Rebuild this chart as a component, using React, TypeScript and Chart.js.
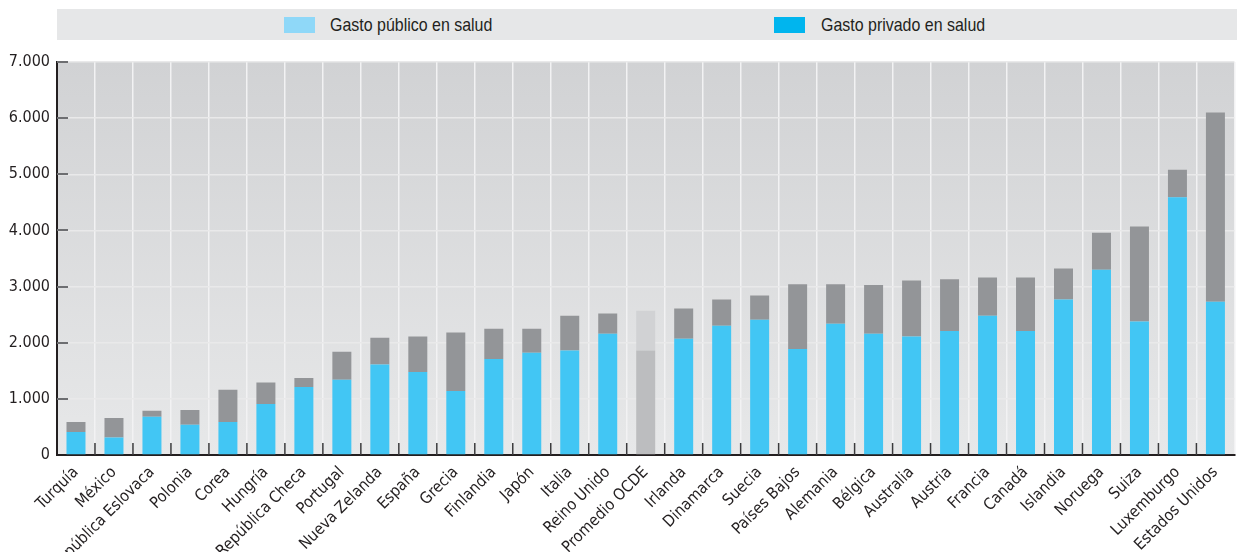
import React, { useEffect, useRef } from "react";
import { Chart, registerables } from "chart.js";

Chart.register(...registerables);

const categories = [
  "Turquía", "México", "República Eslovaca", "Polonia", "Corea", "Hungría",
  "República Checa", "Portugal", "Nueva Zelanda", "España", "Grecia", "Finlandia",
  "Japón", "Italia", "Reino Unido", "Promedio OCDE", "Irlanda", "Dinamarca",
  "Suecia", "Países Bajos", "Alemania", "Bélgica", "Australia", "Austria",
  "Francia", "Canadá", "Islandia", "Noruega", "Suiza", "Luxemburgo", "Estados Unidos",
];

// lower (blue) segment
const gastoPublico = [
  410, 310, 680, 540, 590, 910, 1210, 1340, 1610, 1480, 1140, 1710,
  1820, 1860, 2160, 1860, 2070, 2300, 2410, 1890, 2340, 2160, 2110, 2210,
  2480, 2210, 2770, 3300, 2380, 4590, 2730,
];

// upper (grey) segment
const gastoPrivado = [
  180, 350, 110, 260, 570, 380, 160, 500, 480, 630, 1040, 540,
  430, 620, 360, 710, 540, 470, 430, 1150, 700, 870, 1000, 920,
  680, 950, 550, 660, 1690, 490, 3370,
];

const yTicks = [0, 1000, 2000, 3000, 4000, 5000, 6000, 7000];

const AVG = "Promedio OCDE";
const FONT = "'DejaVu Sans Condensed', 'Liberation Sans Narrow', sans-serif";
const TEXT = "#231f20";

const decor = {
  id: "decor",
  beforeDraw(chart: any) {
    const { ctx, chartArea: a } = chart;
    const g = ctx.createLinearGradient(0, a.top, 0, a.bottom);
    g.addColorStop(0, "#d1d2d4");
    g.addColorStop(1, "#e7e8e9");
    ctx.save();
    ctx.fillStyle = g;
    ctx.fillRect(a.left, a.top, a.right - a.left, a.bottom - a.top);
    ctx.restore();
  },
  beforeDatasetsDraw(chart: any) {
    const { ctx, chartArea: a, scales } = chart;
    const x = scales.x;
    const y = scales.y;
    ctx.save();
    ctx.strokeStyle = "#6d6e71";
    ctx.lineWidth = 2;
    yTicks.forEach((v) => {
      if (v === 0) return;
      const py = Math.round(y.getPixelForValue(v));
      ctx.beginPath();
      ctx.moveTo(a.left, py);
      ctx.lineTo(a.left + 11, py);
      ctx.stroke();
    });
    ctx.strokeStyle = "#3a3a3c";
    ctx.lineWidth = 1.5;
    const n = categories.length;
    for (let i = 1; i < n; i++) {
      const px = (x.getPixelForValue(i - 1) + x.getPixelForValue(i)) / 2;
      ctx.beginPath();
      ctx.moveTo(px, a.bottom);
      ctx.lineTo(px, a.bottom - 12);
      ctx.stroke();
    }
    ctx.restore();
  },
};

export default function App() {
  const ref = useRef<HTMLCanvasElement | null>(null);

  useEffect(() => {
    if (!ref.current) return;
    const chart = new Chart(ref.current, {
      type: "bar",
      data: {
        labels: categories,
        datasets: [
          {
            label: "Gasto público en salud",
            data: gastoPublico,
            backgroundColor: categories.map((c) => (c === AVG ? "#bcbdbf" : "#42c6f4")),
            barPercentage: 0.5,
            categoryPercentage: 1,
          },
          {
            label: "Gasto privado en salud",
            data: gastoPrivado,
            backgroundColor: categories.map((c) => (c === AVG ? "#d1d2d4" : "#939598")),
            barPercentage: 0.5,
            categoryPercentage: 1,
          },
        ],
      },
      options: {
        animation: false,
        responsive: false,
        devicePixelRatio: 1,
        layout: { padding: { top: 62, left: 0, right: 0, bottom: 0 } },
        plugins: { legend: { display: false }, tooltip: { enabled: false } },
        scales: {
          x: {
            stacked: true,
            afterFit: (s: any) => {
              s.height = 97;
            },
            border: { display: true, color: TEXT, width: 2 },
            grid: { color: "#f2f2f3", lineWidth: 1.5, drawTicks: false, offset: true },
            ticks: {
              autoSkip: false,
              minRotation: 45,
              maxRotation: 45,
              padding: 8,
              color: TEXT,
              font: { family: FONT, size: 16 },
            },
          },
          y: {
            stacked: true,
            min: 0,
            max: 7000,
            afterFit: (s: any) => {
              s.width = 57;
            },
            afterBuildTicks: (s: any) => {
              s.ticks = yTicks.map((v) => ({ value: v }));
            },
            border: { display: true, color: TEXT, width: 2 },
            grid: { color: "#e9e9ea", lineWidth: 1.5, drawTicks: false },
            ticks: {
              padding: 7,
              color: TEXT,
              font: { family: FONT, size: 16 },
              callback: (v: any) => Number(v).toLocaleString("de-DE"),
            },
          },
        },
      },
      plugins: [decor],
    });
    return () => chart.destroy();
  }, []);

  const legendText: React.CSSProperties = {
    position: "absolute",
    top: 0,
    height: 31,
    lineHeight: "32px",
    fontFamily: "'Liberation Sans', Arial, sans-serif",
    fontSize: 19,
    color: TEXT,
    whiteSpace: "nowrap",
    transform: "scaleX(0.84)",
    transformOrigin: "left center",
  };
  const swatch: React.CSSProperties = {
    position: "absolute",
    top: 8,
    width: 31,
    height: 16,
  };

  return (
    <div style={{ position: "absolute", left: 0, top: 0, width: 1237, height: 552, background: "#fff" }}>
      <canvas ref={ref} width={1237} height={552} style={{ position: "absolute", left: 0, top: 0 }} />
      <div
        style={{
          position: "absolute",
          left: 57,
          top: 9,
          width: 1180,
          height: 31,
          background: "#e6e7e8",
        }}
      >
        <div style={{ ...swatch, left: 227, background: "#8fd8f8" }} />
        <div style={{ ...legendText, left: 273 }}>Gasto público en salud</div>
        <div style={{ ...swatch, left: 717, background: "#00b5ee" }} />
        <div style={{ ...legendText, left: 764 }}>Gasto privado en salud</div>
      </div>
    </div>
  );
}
